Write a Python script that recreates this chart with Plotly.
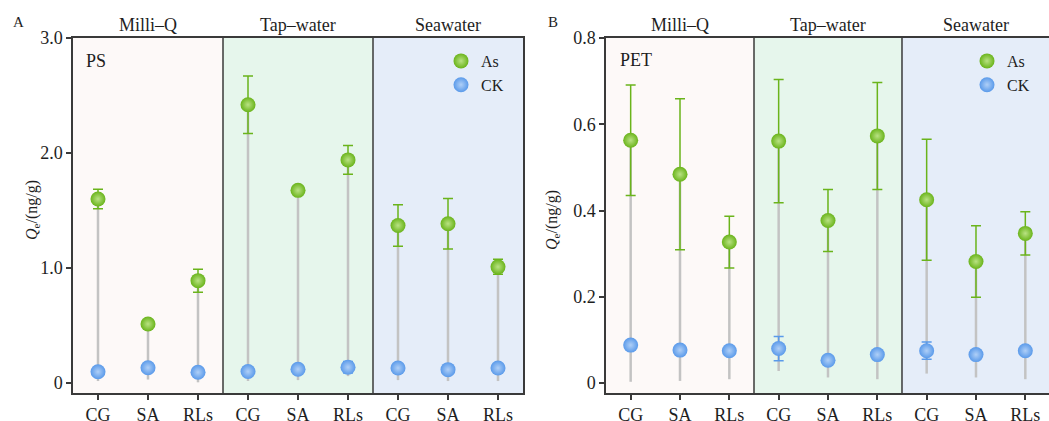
import plotly.graph_objects as go

# ---------------- data ----------------
groups = ["Milli\u2013Q", "Tap\u2013water", "Seawater"]
methods = ["CG", "SA", "RLs"]
tick_labels = methods * 3

# Panel A (PS)
ps_as = [1.60, 0.513, 0.89, 2.42, 1.675, 1.94, 1.37, 1.385, 1.01]
ps_as_err = [0.085, 0.02, 0.10, 0.25, 0.02, 0.125, 0.18, 0.22, 0.065]
ps_ck = [0.098, 0.133, 0.093, 0.100, 0.119, 0.137, 0.130, 0.116, 0.130]
ps_ck_err = [0.02, 0.02, 0.02, 0.02, 0.02, 0.05, 0.02, 0.02, 0.02]
ps_stem_low = [0.017, 0.03, 0.006, 0.017, 0.025, 0.06, 0.025, 0.017, 0.017]

# Panel B (PET)
pet_as = [0.563, 0.484, 0.327, 0.561, 0.377, 0.573, 0.425, 0.282, 0.347]
pet_as_err = [0.128, 0.175, 0.060, 0.143, 0.072, 0.124, 0.140, 0.083, 0.050]
pet_ck = [0.088, 0.0765, 0.075, 0.080, 0.053, 0.066, 0.075, 0.066, 0.075]
pet_ck_err = [0.005, 0.005, 0.005, 0.028, 0.005, 0.005, 0.020, 0.005, 0.005]
pet_stem_low = [0.003, 0.005, 0.009, 0.028, 0.013, 0.009, 0.022, 0.013, 0.009]

a_ticks = [0, 1, 2, 3]
a_ticktext = ["0", "1.0", "2.0", "3.0"]
b_ticks = [0, 0.2, 0.4, 0.6, 0.8]
b_ticktext = ["0", "0.2", "0.4", "0.6", "0.8"]

# ---------------- styles ----------------
FONT = "Liberation Serif"
GREEN = "#6AB41B"
GREEN_HI = "#B9E283"
BLUE = "#5A9AEA"
BLUE_HI = "#AFCFF7"
STEM = "#C3C3C3"
FRAME = "#3a3a3a"
TXT = "#1e1e1e"
BG = ["#FDF9F8", "#E6F6EC", "#E5EDF9"]
W, H = 1049, 421

xs = list(range(len(tick_labels)))

fig = go.Figure()


def add_panel(xa, ya, as_v, as_e, ck_v, ck_e, stem_low, legend):
    sx, sy = [], []
    for x, lo, hi in zip(xs, stem_low, as_v):
        sx += [x, x, None]
        sy += [lo, hi, None]
    fig.add_trace(go.Scatter(x=sx, y=sy, mode="lines", xaxis=xa, yaxis=ya,
                             line=dict(color=STEM, width=2.5),
                             showlegend=False, hoverinfo="skip"))
    fig.add_trace(go.Scatter(
        x=xs, y=ck_v, mode="markers", name="CK", xaxis=xa, yaxis=ya, legend=legend,
        error_y=dict(type="data", array=ck_e, color=BLUE, thickness=1.5, width=5),
        marker=dict(size=15, color=BLUE, gradient=dict(type="radial", color=BLUE_HI),
                    line=dict(width=0)),
        legendrank=2))
    fig.add_trace(go.Scatter(
        x=xs, y=as_v, mode="markers", name="As", xaxis=xa, yaxis=ya, legend=legend,
        error_y=dict(type="data", array=as_e, color=GREEN, thickness=1.5, width=5),
        marker=dict(size=15, color=GREEN, gradient=dict(type="radial", color=GREEN_HI),
                    line=dict(width=0)),
        legendrank=1))


add_panel("x", "y", ps_as, ps_as_err, ps_ck, ps_ck_err, ps_stem_low, "legend")
add_panel("x2", "y2", pet_as, pet_as_err, pet_ck, pet_ck_err, pet_stem_low, "legend2")

shapes = []
annotations = []
for xr, yr in (("x", "y"), ("x2", "y2")):
    for i in range(3):
        shapes.append(dict(type="rect", xref=xr, yref=yr + " domain",
                           x0=i * 3 - 0.5, x1=i * 3 + 2.5, y0=0, y1=1,
                           fillcolor=BG[i], line=dict(width=0), layer="below"))
    for i in range(1, 3):
        shapes.append(dict(type="line", xref=xr, yref=yr + " domain",
                           x0=i * 3 - 0.5, x1=i * 3 - 0.5, y0=0, y1=1,
                           line=dict(color=FRAME, width=1.5), layer="above"))
    for i, g in enumerate(groups):
        annotations.append(dict(text=g, xref=xr, yref="paper", x=i * 3 + 1,
                                y=1 - 25 / H, xanchor="center", yanchor="middle",
                                showarrow=False,
                                font=dict(family=FONT, size=18, color=TXT)))


def label(text, px, py, size=16, xanchor="left", angle=0):
    annotations.append(dict(text=text, xref="paper", yref="paper", x=px / W,
                            y=1 - py / H, xanchor=xanchor, yanchor="middle",
                            textangle=angle, showarrow=False,
                            font=dict(family=FONT, size=size, color=TXT)))


label("A", 11, 22, 15)
label("B", 546, 22, 15)
label("PS", 84, 61, 18)
label("PET", 618, 60, 18)
ytitle = "<i>Q</i><sub>e</sub>/(ng/g)"
label(ytitle, 32, 210, 16, xanchor="center", angle=-90)
label(ytitle, 553, 220, 16, xanchor="center", angle=-90)

ydom = [1 - 393 / H, 1 - 38 / H]
axis_common = dict(showline=True, mirror=True, linecolor=FRAME, linewidth=1.5,
                   ticks="outside", ticklen=5, tickcolor=FRAME, tickwidth=1.5,
                   showgrid=False, zeroline=False, automargin=False,
                   tickfont=dict(family=FONT, size=18, color=TXT))

legend_common = dict(xanchor="left", yanchor="top", bgcolor="rgba(0,0,0,0)",
                     tracegroupgap=0, font=dict(family=FONT, size=16, color=TXT))

fig.update_layout(
    width=W, height=H,
    margin=dict(l=0, r=0, t=0, b=0, autoexpand=False),
    paper_bgcolor="white", plot_bgcolor="white",
    xaxis=dict(domain=[73 / W, 523 / W], range=[-0.5, 8.5], tickvals=xs,
               ticktext=tick_labels, anchor="y", **axis_common),
    yaxis=dict(domain=ydom, range=[-0.087, 3.0], tickvals=a_ticks,
               ticktext=a_ticktext, anchor="x", **axis_common),
    xaxis2=dict(domain=[606 / W, 1.0], range=[-0.5, 8.48], tickvals=xs,
                ticktext=tick_labels, anchor="y2", **axis_common),
    yaxis2=dict(domain=ydom, range=[-0.023, 0.8], tickvals=b_ticks,
                ticktext=b_ticktext, anchor="x2", **axis_common),
    shapes=shapes,
    annotations=annotations,
    legend=dict(x=441 / W, y=1 - 44 / H, **legend_common),
    legend2=dict(x=967 / W, y=1 - 44 / H, **legend_common),
)

fig.write_html("out.html",
               config={"displayModeBar": False},
               post_script="document.body.style.margin='0';"
                           "document.body.style.overflow='hidden';")
